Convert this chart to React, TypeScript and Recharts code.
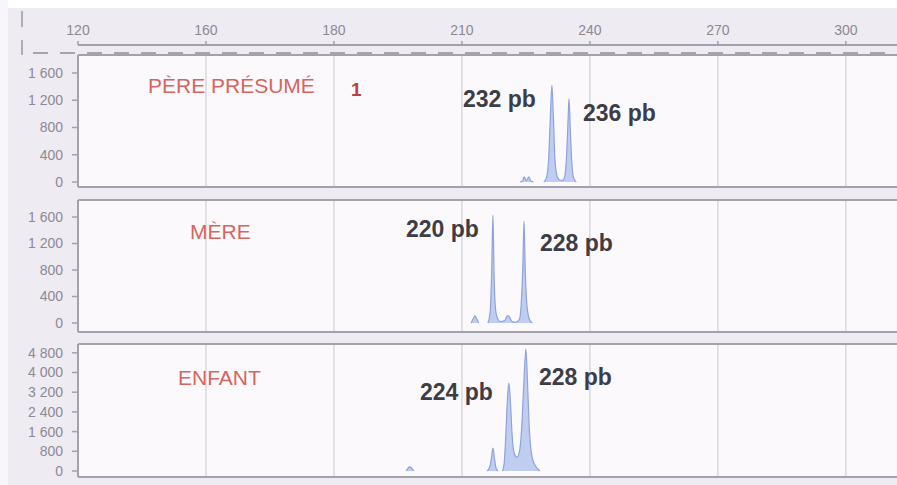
import React from "react";
import { ComposedChart, Area, XAxis, YAxis, CartesianGrid } from "recharts";

// Axe des tailles (positions régulières, étiquettes telles qu'affichées)
const xTicks = [120, 150, 180, 210, 240, 270, 300];
const xTickLabels = ["120", "160", "180", "210", "240", "270", "300"];
const xDomain: [number, number] = [120, 312];

const yTicksSmall = [0, 400, 800, 1200, 1600];
const yTicksLarge = [0, 800, 1600, 2400, 3200, 4000, 4800];

type Pt = { x: number; y: number | null };

// PÈRE PRÉSUMÉ
const perePeaks: Pt[] = [
  { x: 223.6, y: 0 }, { x: 224.2, y: 15 }, { x: 224.6, y: 75 }, { x: 225.1, y: 20 },
  { x: 225.7, y: 75 }, { x: 226.2, y: 10 }, { x: 226.8, y: 0 },
  { x: 227.5, y: null },
  { x: 229.2, y: 0 }, { x: 229.8, y: 60 }, { x: 230.3, y: 300 }, { x: 230.7, y: 900 },
  { x: 231.1, y: 1420 }, { x: 231.45, y: 950 }, { x: 231.8, y: 350 }, { x: 232.3, y: 90 },
  { x: 232.9, y: 30 }, { x: 233.6, y: 25 }, { x: 234.1, y: 80 }, { x: 234.55, y: 400 },
  { x: 234.85, y: 850 }, { x: 235.1, y: 1220 }, { x: 235.4, y: 800 }, { x: 235.75, y: 300 },
  { x: 236.2, y: 60 }, { x: 236.8, y: 0 },
];

// MÈRE
const merePeaks: Pt[] = [
  { x: 212.2, y: 0 }, { x: 212.6, y: 60 }, { x: 213.05, y: 110 }, { x: 213.5, y: 60 }, { x: 213.9, y: 0 },
  { x: 215.0, y: null },
  { x: 216.1, y: 0 }, { x: 216.6, y: 150 }, { x: 216.95, y: 700 }, { x: 217.27, y: 1630 },
  { x: 217.55, y: 700 }, { x: 217.9, y: 200 }, { x: 218.4, y: 60 }, { x: 219.0, y: 20 },
  { x: 220.1, y: 40 }, { x: 220.5, y: 100 }, { x: 220.85, y: 110 }, { x: 221.3, y: 70 },
  { x: 221.8, y: 20 }, { x: 222.6, y: 10 }, { x: 223.5, y: 60 }, { x: 224.0, y: 400 },
  { x: 224.3, y: 900 }, { x: 224.55, y: 1540 }, { x: 224.85, y: 800 }, { x: 225.2, y: 300 },
  { x: 225.8, y: 60 }, { x: 226.5, y: 0 },
];

// ENFANT
const enfantPeaks: Pt[] = [
  { x: 196.9, y: 0 }, { x: 197.8, y: 170 }, { x: 198.7, y: 0 },
  { x: 205.0, y: null },
  { x: 215.9, y: 0 }, { x: 216.5, y: 150 }, { x: 216.9, y: 500 }, { x: 217.27, y: 930 },
  { x: 217.65, y: 500 }, { x: 218.0, y: 120 }, { x: 218.5, y: 0 },
  { x: 219.0, y: null },
  { x: 219.5, y: 0 }, { x: 219.9, y: 300 }, { x: 220.3, y: 1500 }, { x: 220.7, y: 3000 },
  { x: 221.0, y: 3570 }, { x: 221.35, y: 2900 }, { x: 221.75, y: 1500 }, { x: 222.3, y: 700 },
  { x: 222.9, y: 560 }, { x: 223.5, y: 800 }, { x: 224.0, y: 1700 }, { x: 224.5, y: 3500 },
  { x: 225.0, y: 4950 }, { x: 225.4, y: 3500 }, { x: 225.75, y: 1900 }, { x: 226.4, y: 600 },
  { x: 227.1, y: 250 }, { x: 227.6, y: 120 }, { x: 228.3, y: 0 },
];

const W = 897;
const AXIS_GREY = "#a3a1ab";
const GRID_GREY = "#d9d7e0";
const TICK_TEXT = "#8b8993";
const FONT = "'Liberation Sans', Arial, sans-serif";

const fmtFr = (v: number) => {
  const s = String(v);
  return s.length > 3 ? s.slice(0, s.length - 3) + " " + s.slice(-3) : s;
};

// vertical grid at the size ticks, from the plot offset and the x domain
const gridX = (props: any) => {
  const off = props?.offset ?? {};
  const left = typeof off.left === "number" ? off.left : 78;
  const width = typeof off.width === "number" ? off.width : W - 78;
  return xTicks.map((t) => left + ((t - xDomain[0]) / (xDomain[1] - xDomain[0])) * width);
};

const PAD = 8;

function Panel({
  data, top, bottom, domain, ticks,
}: { data: Pt[]; top: number; bottom: number; domain: [number, number]; ticks: number[] }) {
  const h = bottom - top + 2 + PAD;
  return (
    <div style={{ position: "absolute", left: 0, top: top - 1, width: W, height: h }}>
      <ComposedChart
        width={W} height={h} data={data}
        margin={{ top: 0, right: 0, bottom: PAD, left: 0 }}
        style={{ overflow: "visible" }}
      >
        <CartesianGrid
          horizontal={false} stroke={GRID_GREY} strokeWidth={1.5} fill="#fcf9fd"
          verticalCoordinatesGenerator={gridX}
        />
        <XAxis
          dataKey="x" type="number" domain={xDomain} ticks={xTicks} allowDataOverflow
          height={1} tick={false} tickLine={false}
          axisLine={{ stroke: AXIS_GREY, strokeWidth: 2 }}
        />
        <XAxis
          xAxisId="top" orientation="top" dataKey="x" type="number" domain={xDomain}
          height={1} tick={false} tickLine={false}
          axisLine={{ stroke: AXIS_GREY, strokeWidth: 2 }}
        />
        <YAxis
          type="number" domain={domain} ticks={ticks} allowDataOverflow width={78}
          interval={0} tickSize={6} tickMargin={9}
          tickFormatter={fmtFr}
          tick={{ fill: TICK_TEXT, fontSize: 14, fontFamily: FONT }}
          tickLine={{ stroke: AXIS_GREY, strokeWidth: 1.5 }}
          axisLine={{ stroke: AXIS_GREY, strokeWidth: 2 }}
        />
        <Area
          dataKey="y" type="monotone" stroke="#8ea3dc" strokeWidth={1.2}
          fill="#bccaf0" fillOpacity={0.95} connectNulls={false}
          isAnimationActive={false} dot={false} activeDot={false}
        />
      </ComposedChart>
    </div>
  );
}

function TopAxis() {
  const data = xTicks.map((v) => ({ x: v }));
  return (
    <div style={{ position: "absolute", left: 0, top: 0, width: W, height: 50 }}>
      <ComposedChart width={W} height={50} data={data} margin={{ top: 0, right: 0, bottom: 0, left: 78 }}>
        <XAxis
          orientation="top" dataKey="x" type="number" domain={xDomain} ticks={xTicks}
          interval={0} height={45} tickSize={4} tickMargin={6}
          tickFormatter={(v: number) => xTickLabels[xTicks.indexOf(v)] ?? String(v)}
          tick={{ fill: TICK_TEXT, fontSize: 14, fontFamily: FONT }}
          tickLine={{ stroke: AXIS_GREY, strokeWidth: 1.5 }}
          axisLine={{ stroke: AXIS_GREY, strokeWidth: 2 }}
        />
        <YAxis hide domain={[0, 1]} />
      </ComposedChart>
    </div>
  );
}

const RED = "#d5655d";
const DARK = "#3d3d46";

export default function App() {
  return (
    <div
      style={{
        position: "absolute", left: 0, top: 0, width: W, height: 485,
        background: "#efebf3", overflow: "hidden", fontFamily: FONT,
      }}
    >
      <div style={{ position: "absolute", left: 0, top: 0, width: W, height: 8, background: "#ffffff" }} />
      <div style={{ position: "absolute", left: 0, top: 0, width: 8, height: 485, background: "#f8f6fa" }} />
      <TopAxis />
      <Panel data={enfantPeaks} top={344} bottom={477} domain={[-244, 5157]} ticks={yTicksLarge} />
      <Panel data={merePeaks} top={200} bottom={332} domain={[-136, 1857]} ticks={yTicksSmall} />
      <Panel data={perePeaks} top={55} bottom={187} domain={[-73, 1864]} ticks={yTicksSmall} />
      <svg
        width={W} height={485}
        style={{ position: "absolute", left: 0, top: 0, pointerEvents: "none" }}
      >
        <line x1={22} y1={11} x2={22} y2={27} stroke="#9a98a2" strokeWidth={1.5} />
        <line x1={22} y1={40} x2={22} y2={55} stroke="#9a98a2" strokeWidth={1.5} />
        <line x1={33} y1={53} x2={W} y2={53} stroke="#a6a4ae" strokeWidth={2} strokeDasharray="15 12" />
        <text x={148} y={93} fill={RED} fontSize={21} fontFamily={FONT}>PÈRE PRÉSUMÉ</text>
        <text x={351} y={96} fill="#b3443f" fontSize={19} fontWeight="bold" fontFamily={FONT}>1</text>
        <text x={463} y={107} fill={DARK} fontSize={23} fontWeight="bold" fontFamily={FONT}>232 pb</text>
        <text x={583} y={121} fill={DARK} fontSize={23} fontWeight="bold" fontFamily={FONT}>236 pb</text>
        <text x={190} y={239} fill={RED} fontSize={21} fontFamily={FONT}>MÈRE</text>
        <text x={406} y={237} fill={DARK} fontSize={23} fontWeight="bold" fontFamily={FONT}>220 pb</text>
        <text x={540} y={251} fill={DARK} fontSize={23} fontWeight="bold" fontFamily={FONT}>228 pb</text>
        <text x={178} y={385} fill={RED} fontSize={21} fontFamily={FONT}>ENFANT</text>
        <text x={420} y={400} fill={DARK} fontSize={23} fontWeight="bold" fontFamily={FONT}>224 pb</text>
        <text x={539} y={385} fill={DARK} fontSize={23} fontWeight="bold" fontFamily={FONT}>228 pb</text>
      </svg>
    </div>
  );
}
